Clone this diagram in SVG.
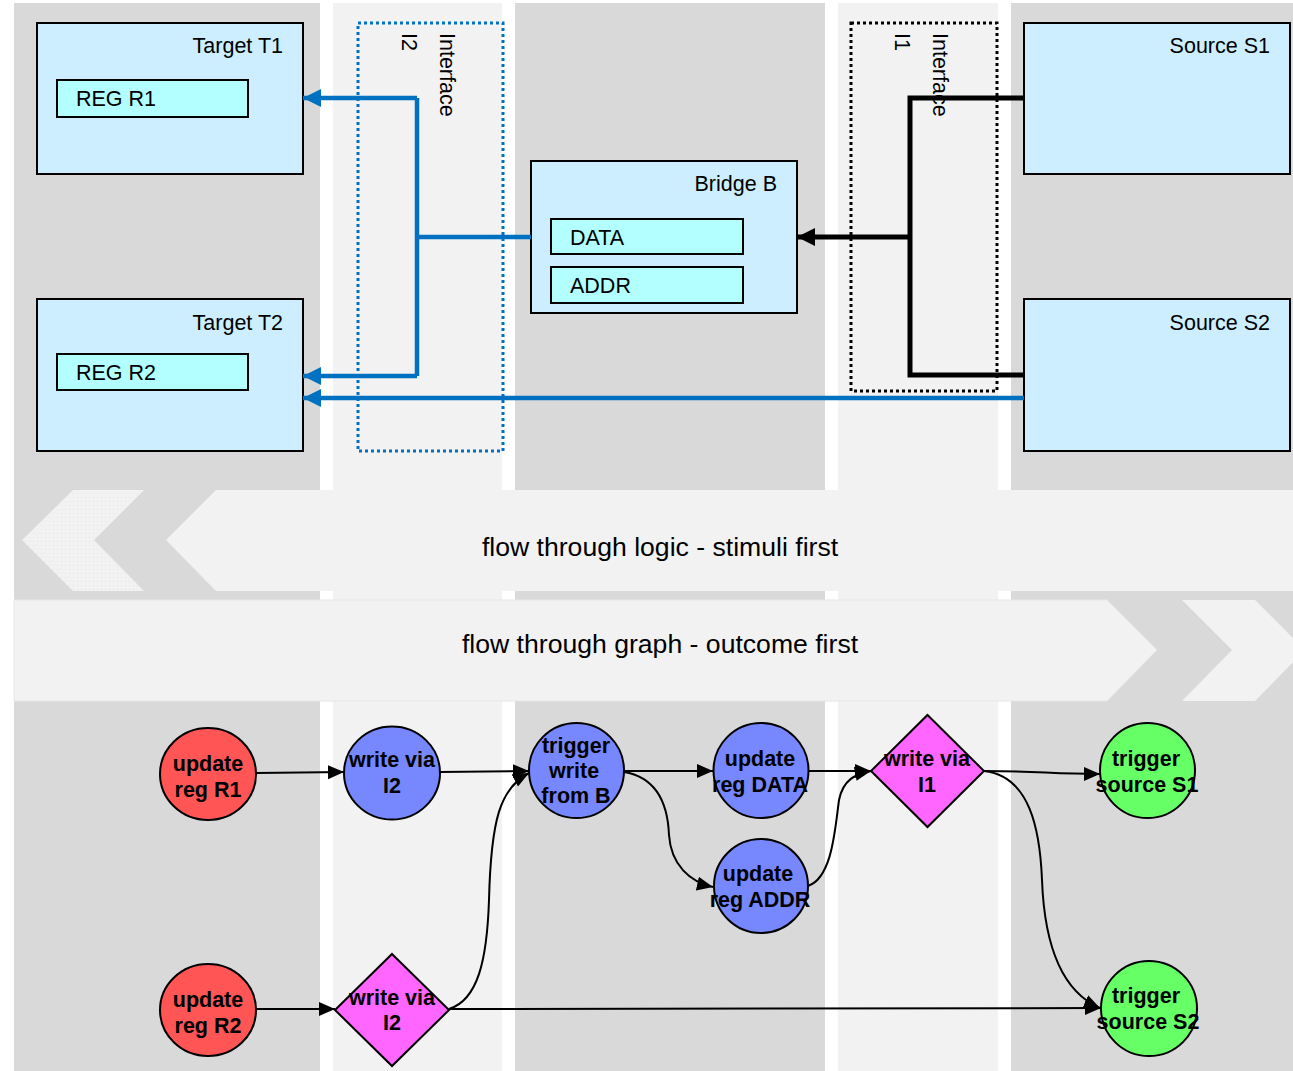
<svg xmlns="http://www.w3.org/2000/svg" width="1293" height="1071" viewBox="0 0 1293 1071">
<defs>
<style>
.sg{fill:#d9d9d9}
.sl{fill:#f2f2f2}
.box{fill:#cceeff;stroke:#000;stroke-width:2}
.reg{fill:#b3ffff;stroke:#000;stroke-width:2}
.t{font-family:"Liberation Sans",Arial,sans-serif;font-size:21.5px;fill:#000}
.bt{font-family:"Liberation Sans",Arial,sans-serif;font-size:26.6px;fill:#000}
.nt{font-family:"Liberation Sans",Arial,sans-serif;font-size:21.5px;font-weight:bold;fill:#000;text-anchor:middle}
.blue{fill:none;stroke:#0070c0;stroke-width:4.5}
.blk{fill:none;stroke:#000;stroke-width:5}
.e{fill:none;stroke:#000;stroke-width:2}
.nd{stroke:#000;stroke-width:2}
.red{fill:#ff5555}
.pur{fill:#7788ff}
.mag{fill:#ff66ff}
.grn{fill:#66ff66}
</style>
<marker id="ab" markerUnits="userSpaceOnUse" markerWidth="18" markerHeight="18" refX="18" refY="9" orient="auto"><path d="M0,0 L18,9 L0,18 z" fill="#0070c0"/></marker>
<marker id="ak" markerUnits="userSpaceOnUse" markerWidth="18" markerHeight="18" refX="18" refY="9" orient="auto"><path d="M0,0 L18,9 L0,18 z" fill="#000"/></marker>
<marker id="a" markerUnits="userSpaceOnUse" markerWidth="16" markerHeight="16" refX="16" refY="8" orient="auto"><path d="M0,1 L16,8 L0,15 z" fill="#000"/></marker>
<pattern id="dots" width="4" height="4" patternUnits="userSpaceOnUse"><rect width="4" height="4" fill="#f2f2f2"/><rect x="1" y="1" width="1" height="1" fill="#e4e4e4"/></pattern>
</defs>
<rect width="1293" height="1071" fill="#fff"/>
<g id="stripes">
<rect class="sg" x="14" y="3" width="306" height="1068"/>
<rect class="sl" x="333" y="3" width="169" height="1068"/>
<rect class="sg" x="515" y="3" width="310" height="1068"/>
<rect class="sl" x="838" y="3" width="160" height="1068"/>
<rect class="sg" x="1011" y="3" width="282" height="1068"/>
</g>
<g id="band-logic">
<polygon points="73,490 144,490 94,540 144,591 73,591 22,540" fill="url(#dots)"/>
<polygon points="216,490 1293,490 1293,591 216,591 166,540" fill="#f2f2f2"/>
<text class="bt" x="660" y="556" text-anchor="middle">flow through logic - stimuli first</text>
</g>
<g id="band-graph">
<polygon points="14,600 1107,600 1157,650 1107,701 14,701" fill="#f2f2f2" stroke="#e6e6e6" stroke-width="1"/>
<polygon points="1182,600 1255,600 1305,650 1255,701 1182,701 1232,650" fill="#f2f2f2"/>
<text class="bt" x="660" y="653" text-anchor="middle">flow through graph - outcome first</text>
</g>
<g id="interface-I2">
<rect x="358" y="23" width="145" height="428" fill="none" stroke="#0070c0" stroke-width="3" stroke-dasharray="3,3"/>
<text class="t" transform="translate(440,33) rotate(90)">Interface</text>
<text class="t" transform="translate(402,33) rotate(90)">I2</text>
</g>
<g id="interface-I1">
<rect x="851" y="23" width="146" height="368" fill="none" stroke="#000" stroke-width="3" stroke-dasharray="3,3"/>
<text class="t" transform="translate(933,33) rotate(90)">Interface</text>
<text class="t" transform="translate(895,33) rotate(90)">I1</text>
</g>
<g id="target-T1">
<rect class="box" x="37" y="23" width="266" height="151"/>
<text class="t" x="283" y="53" text-anchor="end">Target T1</text>
<rect class="reg" x="57" y="80" width="191" height="37"/>
<text class="t" x="76" y="106">REG R1</text>
</g>
<g id="target-T2">
<rect class="box" x="37" y="299" width="266" height="152"/>
<text class="t" x="283" y="330" text-anchor="end">Target T2</text>
<rect class="reg" x="57" y="354" width="191" height="36"/>
<text class="t" x="76" y="380">REG R2</text>
</g>
<g id="bridge-B">
<rect class="box" x="531" y="161" width="266" height="152"/>
<text class="t" x="777" y="191" text-anchor="end">Bridge B</text>
<rect class="reg" x="551" y="219" width="192" height="35"/>
<text class="t" x="570" y="245">DATA</text>
<rect class="reg" x="551" y="267" width="192" height="36"/>
<text class="t" x="570" y="293">ADDR</text>
</g>
<g id="source-S1">
<rect class="box" x="1024" y="23" width="266" height="151"/>
<text class="t" x="1270" y="53" text-anchor="end">Source S1</text>
</g>
<g id="source-S2">
<rect class="box" x="1024" y="299" width="266" height="152"/>
<text class="t" x="1270" y="330" text-anchor="end">Source S2</text>
</g>
<g id="connectors-top">
<path class="blue" d="M531,237 L417,237"/>
<path class="blue" d="M417,98 L417,376"/>
<path class="blue" d="M417,98 L303,98" marker-end="url(#ab)"/>
<path class="blue" d="M417,376 L303,376" marker-end="url(#ab)"/>
<path class="blue" d="M1024,398 L303,398" marker-end="url(#ab)"/>
<path class="blk" d="M1024,98 L910,98 L910,375 L1024,375"/>
<path class="blk" d="M910,237 L797,237" marker-end="url(#ak)"/>
</g>
<g id="connectors-graph">
<path class="e" d="M256,773 L344,772" marker-end="url(#a)"/>
<path class="e" d="M440,772 L529,771" marker-end="url(#a)"/>
<path class="e" d="M624,771 L713,771" marker-end="url(#a)"/>
<path class="e" d="M624,772 C660,778 668,810 669,835 C671,865 690,882 713,887" marker-end="url(#a)"/>
<path class="e" d="M809,771 L871,771" marker-end="url(#a)"/>
<path class="e" d="M808,886 C832,878 835,830 839,800 C843,780 855,774 871,771" marker-end="url(#a)"/>
<path class="e" d="M984,771 C1040,771 1050,774 1100,774" marker-end="url(#a)"/>
<path class="e" d="M984,771 C1030,776 1040,830 1042,880 C1045,960 1070,995 1100,1008" marker-end="url(#a)"/>
<path class="e" d="M256,1009 L335,1009" marker-end="url(#a)"/>
<path class="e" d="M449,1009 L1101,1008" marker-end="url(#a)"/>
<path class="e" d="M449,1009 C478,1000 487,960 489,900 C491,820 500,788 529,773" marker-end="url(#a)"/>
</g>
<g id="n-update-R1">
<ellipse class="nd red" cx="208" cy="774" rx="48" ry="46"/>
<text class="nt" x="208" y="771">update</text>
<text class="nt" x="208" y="797">reg R1</text>
</g>
<g id="n-write-I2-a">
<ellipse class="nd pur" cx="392" cy="773" rx="48" ry="46.5"/>
<text class="nt" x="392" y="767">write via</text>
<text class="nt" x="392" y="793">I2</text>
</g>
<g id="n-trigger-B">
<circle class="nd pur" cx="576.5" cy="770.5" r="47.5"/>
<text class="nt" x="576" y="753">trigger</text>
<text class="nt" x="574" y="778">write</text>
<text class="nt" x="576" y="803">from B</text>
</g>
<g id="n-update-DATA">
<circle class="nd pur" cx="761" cy="770.5" r="47.5"/>
<text class="nt" x="760" y="766">update</text>
<text class="nt" x="760" y="792">reg DATA</text>
</g>
<g id="n-update-ADDR">
<circle class="nd pur" cx="761" cy="886" r="47"/>
<text class="nt" x="758" y="881">update</text>
<text class="nt" x="760" y="907">reg ADDR</text>
</g>
<g id="n-write-I1">
<polygon class="nd mag" points="927.5,715 984,771 927.5,827 871,771"/>
<text class="nt" x="927" y="766">write via</text>
<text class="nt" x="927" y="792">I1</text>
</g>
<g id="n-trigger-S1">
<circle class="nd grn" cx="1147.5" cy="770.5" r="47.5"/>
<text class="nt" x="1146" y="766">trigger</text>
<text class="nt" x="1147" y="792">source S1</text>
</g>
<g id="n-update-R2">
<ellipse class="nd red" cx="208" cy="1010" rx="48" ry="46"/>
<text class="nt" x="208" y="1007">update</text>
<text class="nt" x="208" y="1033">reg R2</text>
</g>
<g id="n-write-I2-b">
<polygon class="nd mag" points="392,954 449,1010 392,1066 335,1010"/>
<text class="nt" x="392" y="1005">write via</text>
<text class="nt" x="392" y="1030">I2</text>
</g>
<g id="n-trigger-S2">
<ellipse class="nd grn" cx="1149" cy="1008.5" rx="48" ry="47.5"/>
<text class="nt" x="1146" y="1003">trigger</text>
<text class="nt" x="1148" y="1029">source S2</text>
</g>
</svg>
